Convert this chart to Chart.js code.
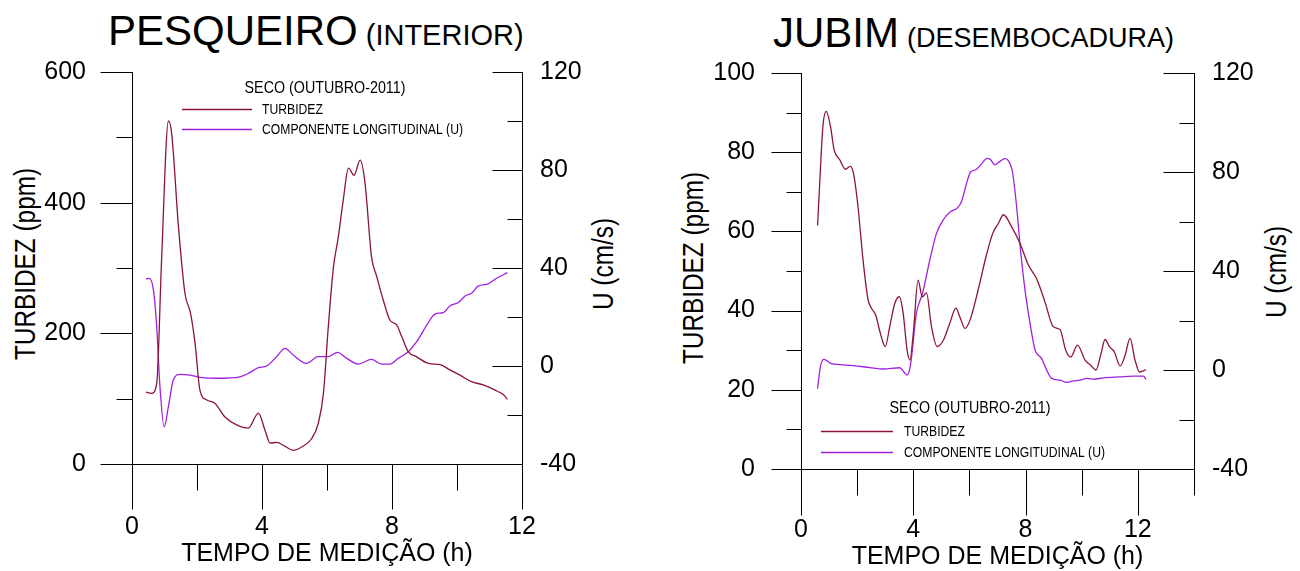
<!DOCTYPE html>
<html>
<head>
<meta charset="utf-8">
<title>Turbidez x U - Pesqueiro / Jubim</title>
<script src="https://cdn.jsdelivr.net/npm/chart.js@4.4.1/dist/chart.umd.min.js"></script>
<style>
    body { margin: 0; background: #fff; width: 1300px; height: 571px; position: relative; overflow: hidden; color: #000; font-family: 'Liberation Sans', Arial, sans-serif; }
    .panel { position: absolute; top: 0; width: 650px; height: 571px; }
    .panel canvas { position: absolute; left: 0; top: 0; }
    .title { position: absolute; white-space: nowrap; font-size: 42px; line-height: 1; }
    .title span { line-height: 1; margin-left: 8px; }
    .ytitle { position: absolute; white-space: nowrap; font-size: 29px; line-height: 1;
              transform: translate(-50%, -50%) rotate(-90deg) scaleX(0.84); }
</style>
</head>
<body>

<div class="title" style="left:108px; top:10px;">PESQUEIRO<span style="font-size:29px;">(INTERIOR)</span></div>
<div class="title" style="left:773px; top:12px;">JUBIM<span style="font-size:27px;">(DESEMBOCADURA)</span></div>

<div class="ytitle" style="left:25px; top:264px;">TURBIDEZ (ppm)</div>
<div class="ytitle" style="left:603px; top:264px;">U (cm/s)</div>
<div class="ytitle" style="left:693px; top:268px;">TURBIDEZ (ppm)</div>
<div class="ytitle" style="left:1276px; top:272px;">U (cm/s)</div>

<div class="panel" style="left:0;"><canvas id="pesqueiro-chart" width="650" height="571"></canvas></div>
<div class="panel" style="left:650px;"><canvas id="jubim-chart" width="650" height="571"></canvas></div>

<script>
// ---- PESQUEIRO (interior) ----
const pesqTurbHours = [0.43, 0.6, 0.76, 0.91, 1.12, 1.22, 1.43, 1.63, 1.8, 1.94, 2.09, 2.3, 2.55, 2.86, 3.22, 3.58, 3.89, 4.09, 4.25, 4.45, 4.71, 4.96, 5.22, 5.53, 5.73, 5.89, 6.04, 6.2, 6.35, 6.5, 6.66, 6.83, 7.02, 7.17, 7.37, 7.53, 7.73, 7.94, 8.14, 8.3, 8.5, 8.76, 9.12, 9.48, 9.78, 10.09, 10.45, 10.81, 11.17, 11.43, 11.55];
const pesqTurbValues = [110, 108, 123, 312, 525, 506, 363, 261, 231, 185, 113, 98, 93, 72, 60, 55, 78, 52, 32, 33, 27, 21, 26, 39, 62, 108, 210, 302, 348, 404, 453, 442, 465, 430, 317, 287, 251, 220, 213, 195, 172, 164, 154, 152, 144, 136, 126, 121, 113, 106, 99];

const pesqUHours = [0.43, 0.53, 0.66, 0.76, 0.86, 0.99, 1.12, 1.27, 1.48, 1.78, 2.09, 2.61, 3.32, 3.58, 3.89, 4.14, 4.45, 4.71, 4.96, 5.37, 5.73, 6.04, 6.32, 6.61, 6.96, 7.37, 7.68, 7.94, 8.19, 8.5, 8.76, 9.07, 9.32, 9.58, 9.78, 10.04, 10.25, 10.45, 10.66, 10.91, 11.22, 11.55];
const pesqUValues = [35.5, 35.8, 31, 16, -8.4, -24.8, -16.6, -5.7, -3.4, -3.7, -4.6, -5, -4.4, -3, -0.7, 0, 3.8, 7.2, 4.5, 1.1, 3.8, 3.8, 5.6, 3.1, 0.8, 2.7, 0.8, 0.8, 3.1, 5.8, 9.9, 16.7, 21.2, 21.8, 24.5, 25.9, 28.6, 29.7, 32.7, 33.3, 35.8, 38.1];

// ---- JUBIM (desembocadura) ----
const jubimTurbHours = [0.59, 0.69, 0.78, 0.9, 1.05, 1.18, 1.38, 1.58, 1.76, 1.88, 2.03, 2.21, 2.39, 2.51, 2.66, 2.83, 3.0, 3.16, 3.34, 3.5, 3.64, 3.78, 3.88, 4.0, 4.17, 4.32, 4.47, 4.65, 4.85, 5.07, 5.3, 5.52, 5.66, 5.84, 6.02, 6.31, 6.59, 6.83, 7.03, 7.21, 7.5, 7.8, 8.1, 8.39, 8.69, 8.99, 9.23, 9.43, 9.61, 9.85, 10.12, 10.32, 10.51, 10.69, 10.83, 10.99, 11.16, 11.37, 11.55, 11.72, 11.9, 12.06, 12.29];
const jubimTurbValues = [61.5, 75.5, 86.5, 90.3, 86.5, 80.6, 78.1, 75.7, 76.4, 74.3, 66.3, 52.8, 42.7, 40.6, 38.9, 34.2, 30.9, 35.9, 41.8, 43.5, 39.3, 30, 27.5, 34.2, 47.7, 43.5, 44.5, 35.9, 30.9, 32.5, 36.8, 40.6, 38.4, 35.5, 37.6, 45.2, 53.6, 59.5, 62, 64.2, 61.2, 57, 51.5, 48.1, 42.2, 35.9, 35.2, 30, 28.3, 31.3, 27.5, 26.2, 25, 29.2, 32.7, 30.9, 29.6, 26, 28.8, 33, 27.5, 24.5, 25.1];

const jubimUHours = [0.59, 0.69, 0.81, 1.08, 1.38, 1.85, 2.45, 2.93, 3.52, 3.66, 3.78, 3.9, 4.11, 4.33, 4.59, 4.83, 5.07, 5.33, 5.56, 5.72, 5.9, 6.04, 6.23, 6.43, 6.63, 6.75, 6.91, 7.09, 7.26, 7.38, 7.54, 7.68, 7.82, 7.98, 8.16, 8.34, 8.57, 8.75, 8.93, 9.23, 9.46, 9.7, 9.94, 10.18, 10.42, 10.77, 11.37, 11.84, 12.2, 12.29];
const jubimUValues = [-7.5, 1.3, 4.3, 2.6, 2.2, 1.8, 1.0, 0.4, 0.9, -0.7, -2.1, 2, 22.9, 31, 44.5, 55.3, 60.7, 64, 65.4, 68.1, 75.5, 80, 80.9, 83.3, 85.5, 85, 82.9, 84.3, 85.4, 84.7, 79.6, 66.1, 48.5, 32.3, 18.8, 8, 4.7, 0, -3.4, -4.1, -5, -4.4, -4.1, -3.4, -3.7, -3.2, -2.8, -2.5, -2.5, -3.8];

const seriesLabels = ['TURBIDEZ', 'COMPONENTE LONGITUDINAL (U)'];
const legendTitle = 'SECO (OUTUBRO-2011)';
const xTitle = 'TEMPO DE MEDIÇÃO (h)';

const turbColor = '#8B1538';
const uColor = '#A020E0';
const fontFamily = "'Liberation Sans', Arial, sans-serif";
const tickFont = { family: fontFamily, size: 25 };

function toPoints(hours, values) {
    return hours.map((h, i) => ({ x: h, y: values[i] }));
}

function everyN(n) {
    return v => (Math.abs(v % n) < 1e-6 ? v : '');
}

// the original uses a narrow face; squeeze the regular one horizontally
function narrowText(ctx, text, x, y, size, align) {
    ctx.save();
    ctx.font = `${size}px ${fontFamily}`;
    ctx.textAlign = align;
    ctx.textBaseline = 'middle';
    ctx.translate(x, y);
    ctx.scale(0.84, 1);
    ctx.fillText(text, 0, 0);
    ctx.restore();
}

// Axis lines, major/minor tick marks and the in-plot legend
const framePlugin = {
    id: 'frame',
    afterDraw(chart, args, opts) {
        const ctx = chart.ctx;
        const area = chart.chartArea;
        const xs = chart.scales.x, yl = chart.scales.y, yr = chart.scales.y1;
        const L = Math.round(area.left) + 0.5, R = Math.round(area.right) + 0.5;
        const T = Math.round(area.top), B = Math.round(area.bottom) + 0.5;

        ctx.save();
        ctx.strokeStyle = '#000';
        ctx.lineWidth = 1;
        ctx.beginPath();
        ctx.moveTo(L, T); ctx.lineTo(L, B);
        ctx.moveTo(R, T); ctx.lineTo(R, B);
        ctx.moveTo(L, B); ctx.lineTo(R, B);

        yl.ticks.forEach(t => {
            const y = Math.round(yl.getPixelForValue(t.value)) + 0.5;
            const len = t.label !== '' ? opts.leftMajor : opts.leftMinor;
            ctx.moveTo(L - len, y); ctx.lineTo(L, y);
        });
        yr.ticks.forEach(t => {
            const y = Math.round(yr.getPixelForValue(t.value)) + 0.5;
            const len = t.label !== '' ? opts.rightMajor : opts.rightMinor;
            ctx.moveTo(R - len, y); ctx.lineTo(R, y);
        });
        xs.ticks.forEach(t => {
            const x = Math.round(xs.getPixelForValue(t.value)) + 0.5;
            const len = t.label !== '' ? opts.bottomMajor : opts.bottomMinor;
            ctx.moveTo(x, B); ctx.lineTo(x, B + len);
        });
        ctx.stroke();

        // legend
        const lg = opts.legend;
        ctx.fillStyle = '#000';
        narrowText(ctx, legendTitle, lg.titleX, lg.titleY, 17, 'center');
        chart.data.datasets.forEach((ds, i) => {
            const y = lg.rows[i] + 0.5;
            ctx.strokeStyle = ds.borderColor;
            ctx.lineWidth = 1.3;
            ctx.beginPath();
            ctx.moveTo(lg.x0, y); ctx.lineTo(lg.x1, y);
            ctx.stroke();
            narrowText(ctx, ds.label, lg.textX, y, 14.5, 'left');
        });
        ctx.restore();
    }
};

function makeChart(canvasId, cfg) {
    const datasets = [
        {
            label: seriesLabels[0],
            data: toPoints(cfg.turbHours, cfg.turbValues),
            yAxisID: 'y',
            borderColor: turbColor
        },
        {
            label: seriesLabels[1],
            data: toPoints(cfg.uHours, cfg.uValues),
            yAxisID: 'y1',
            borderColor: uColor
        }
    ].map(ds => Object.assign(ds, {
        borderWidth: 1.3,
        pointRadius: 0,
        fill: false,
        cubicInterpolationMode: 'monotone'
    }));

    return new Chart(document.getElementById(canvasId), {
        type: 'line',
        data: { datasets },
        options: {
            responsive: false,
            animation: false,
            devicePixelRatio: 1,
            layout: { padding: { top: cfg.top, left: 0, right: 0, bottom: 0 } },
            plugins: {
                legend: { display: false },
                tooltip: { enabled: false },
                frame: cfg.frame
            },
            scales: {
                x: {
                    type: 'linear',
                    position: 'bottom',
                    min: 0,
                    max: cfg.xMax,
                    grid: { display: false, drawTicks: false },
                    border: { display: false },
                    ticks: { stepSize: 2, autoSkip: false, maxRotation: 0, color: '#000', font: tickFont, padding: cfg.xTickPad, callback: everyN(4) },
                    title: { display: true, text: xTitle, color: '#000', font: { family: fontFamily, size: 25 }, padding: { top: 0, bottom: cfg.xTitlePad } },
                    afterFit(scale) { scale.height = cfg.xHeight; }
                },
                y: {
                    position: 'left',
                    min: 0,
                    max: cfg.turbMax,
                    grid: { display: false, drawTicks: false },
                    border: { display: false },
                    ticks: { stepSize: cfg.turbStep, autoSkip: false, color: '#000', font: tickFont, padding: 46, callback: everyN(cfg.turbStep * 2) },
                    afterFit(scale) { scale.width = cfg.leftWidth; }
                },
                y1: {
                    position: 'right',
                    min: -40,
                    max: 120,
                    grid: { display: false, drawTicks: false },
                    border: { display: false },
                    ticks: { stepSize: 20, autoSkip: false, color: '#000', font: tickFont, padding: 18, callback: everyN(40) },
                    afterFit(scale) { scale.width = cfg.rightWidth; }
                }
            }
        },
        plugins: [framePlugin]
    });
}

makeChart('pesqueiro-chart', {
    turbHours: pesqTurbHours, turbValues: pesqTurbValues,
    uHours: pesqUHours, uValues: pesqUValues,
    turbMax: 600, turbStep: 100, xMax: 12,
    top: 72, leftWidth: 132, rightWidth: 128, xHeight: 107,
    xTickPad: 48, xTitlePad: 2,
    frame: {
        leftMajor: 32, leftMinor: 16, rightMajor: 30, rightMinor: 15, bottomMajor: 45, bottomMinor: 26,
        legend: { titleX: 325, titleY: 88, x0: 182, x1: 252, textX: 262, rows: [109, 129] }
    }
});

makeChart('jubim-chart', {
    turbHours: jubimTurbHours, turbValues: jubimTurbValues,
    uHours: jubimUHours, uValues: jubimUValues,
    turbMax: 100, turbStep: 10, xMax: 14,
    top: 73, leftWidth: 151, rightWidth: 106, xHeight: 102,
    xTickPad: 46, xTitlePad: -1,
    frame: {
        leftMajor: 30, leftMinor: 15, rightMajor: 31, rightMinor: 15, bottomMajor: 46, bottomMinor: 26,
        legend: { titleX: 320, titleY: 408, x0: 171, x1: 243, textX: 254, rows: [431, 452] }
    }
});
</script>
</body>
</html>
